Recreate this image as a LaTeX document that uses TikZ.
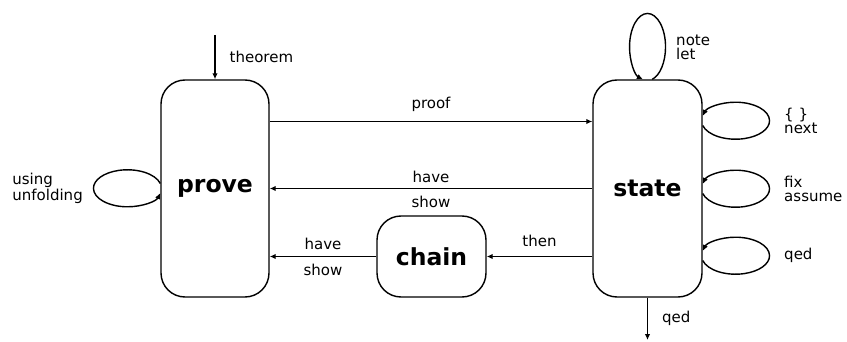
\documentclass[tikz,border=0pt]{standalone}
\usepackage{fontspec}
\setmainfont{DejaVu Sans}
\usetikzlibrary{arrows.meta}

\begin{document}
\begin{tikzpicture}[x = 1pt, y = -1pt, line width = 1.4pt, >={Latex[length=6pt,width=5.5pt]}]
    \tikzstyle{mode}=[draw = black, fill = white, rounded corners = 24pt, inner sep = 0pt, font = \fontsize{23.5}{28}\selectfont\bfseries]
    \tikzstyle{lbl}=[inner sep = 0pt, align = left, font = \fontsize{15}{14}\selectfont]
    \useasboundingbox (0,0) rectangle (847,342);
    
    \foreach \name/\x/\y/\w/\h in {prove/215/188.5/108/217, state/647.5/188.5/109/217, chain/431.5/256.5/109/81}
    \node[mode, minimum width = \w pt, minimum height = \h pt] (\name) at (\x,\y) {\name};
    
    \coordinate (thm) at (215,35);
    \coordinate (done) at (647.5,340);
    
    \draw[->] (thm) -- (prove) node[lbl, midway, right = 14pt] {theorem};
    \draw[->] (state) -- (done) node[lbl, midway, right = 14pt] {qed};
    
    \draw[->] ([yshift = 67pt]prove.east) -- ([yshift = 67pt]state.west) node[lbl, midway, above = 9pt] {proof};
    \draw[->] (state.west) -- (prove.east) node[lbl, midway, above = 5pt] {have} node[lbl, midway, below = 7pt] {show};
    \draw[->] (state.west |- chain.east) -- (chain.east) node[lbl, midway, above = 9pt] {then};
    \draw[->] (chain.west) -- (prove.east |- chain.west) node[lbl, midway, above = 6pt] {have} node[lbl, midway, below = 7pt] {show};
    
    % loops
    \draw[->] ([yshift = 5pt]prove.west) arc[start angle = -15, end angle = -180, x radius = 34, y radius = 18.5]
        node[lbl, left = 10pt] {using\\unfolding} arc[start angle = -180, end angle = -345, x radius = 34, y radius = 18.5];
    \draw[->] ([xshift = 4.7pt]state.north) arc[start angle = 75, end angle = 0, x radius = 18, y radius = 33.5]
        node[lbl, right = 10pt] {note\\let} arc[start angle = 0, end angle = -255, x radius = 18, y radius = 33.5];
    \foreach \s/\txt in {68/{\{ \}\\next}, 0/{fix\\assume}, -67/{qed}}
    \draw[->] ([yshift = \s pt - 5pt]state.east) arc[start angle = 165, end angle = 0, x radius = 34, y radius = 18.5]
        node[lbl, right = 14pt] {\txt} arc[start angle = 0, end angle = -165, x radius = 34, y radius = 18.5];
\end{tikzpicture}
\end{document}
